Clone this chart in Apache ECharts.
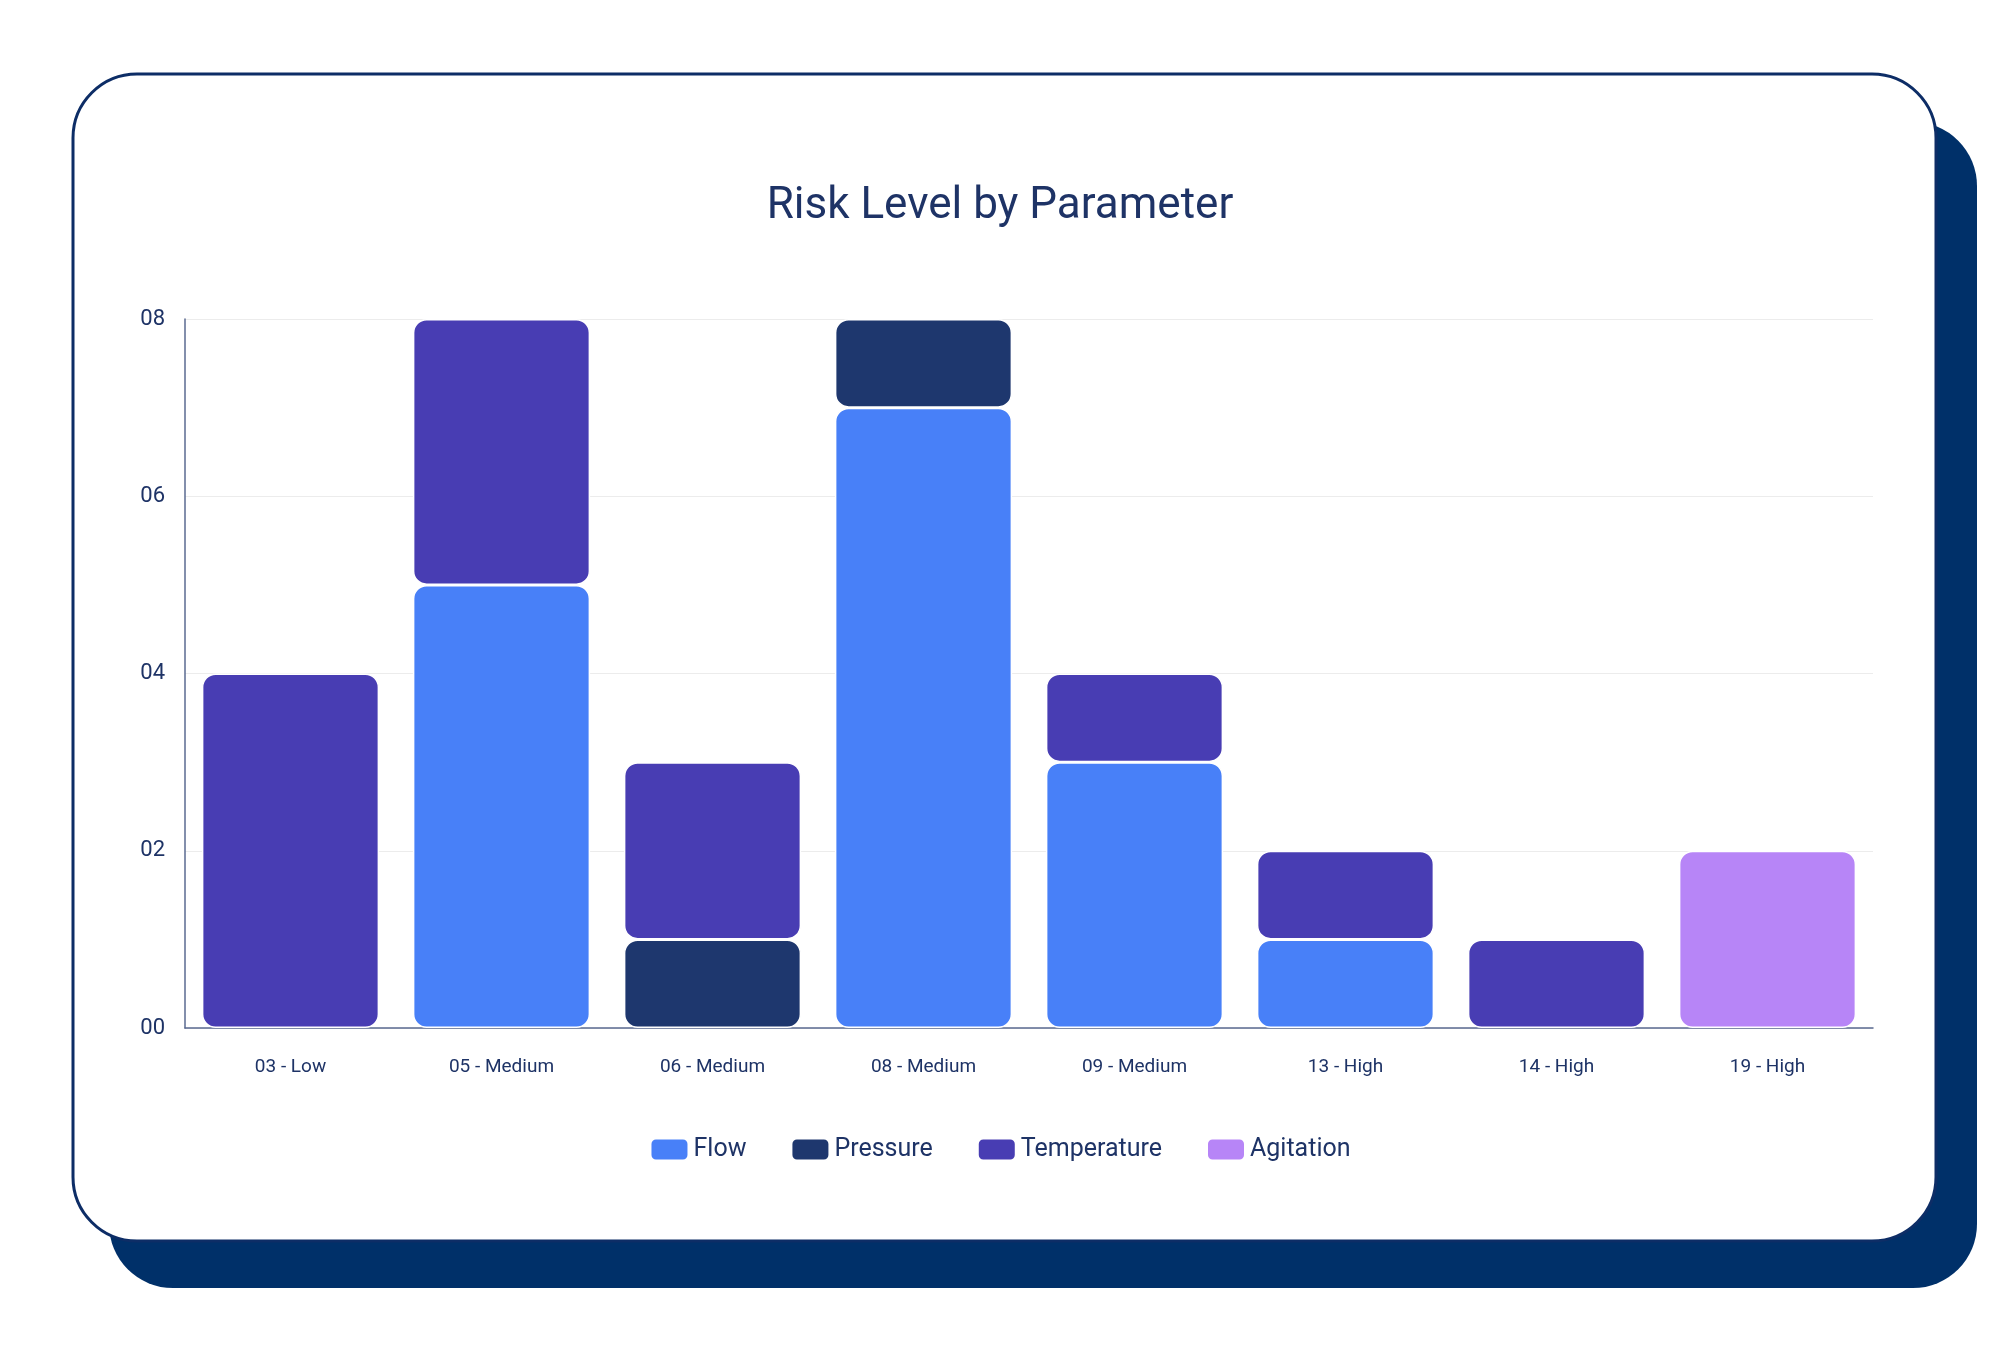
<!DOCTYPE html>
<html><head><meta charset="utf-8">
<script src="https://cdn.jsdelivr.net/npm/echarts@6/dist/echarts.min.js"></script>
<style>html,body{margin:0;padding:0;background:#fff}#c{width:2000px;height:1347px}</style>
</head><body><div id="c"></div>
<script>
const categories = ['03 - Low','05 - Medium','06 - Medium','08 - Medium','09 - Medium','13 - High','14 - High','19 - High'];
const flow = [0,5,0,7,3,1,0,0];
const pressure = [0,0,1,1,0,0,0,0];
const temperature = [4,3,2,0,1,1,1,0];
const agitation = [0,0,0,0,0,0,0,2];
const yTicks = [0,2,4,6,8];
const colors = {Flow:'#4880f8',Pressure:'#1e376e',Temperature:'#483db3',Agitation:'#b785f7'};
const txt = '#1e3366';
const font = 'Roboto';
function s(name,data){
  return {name,type:'bar',stack:'a',data:data.map(v=>v===0?null:v),barCategoryGap:'16%',
    itemStyle:{color:colors[name],borderRadius:13,borderColor:'#fff',borderWidth:1.5}};
}
const chart = echarts.init(document.getElementById('c'));
chart.setOption({
  animation:false,
  textStyle:{fontFamily:font},
  graphic:[
    {type:'rect',z:-10,shape:{x:109,y:122,width:1868,height:1166,r:64},style:{fill:'#003069'}},
    {type:'rect',z:-9,shape:{x:73,y:74,width:1863,height:1167,r:64},style:{fill:'#fff',stroke:'#0d2d66',lineWidth:3}}
  ],
  title:{text:'Risk Level by Parameter',left:'center',top:180,textStyle:{color:txt,fontSize:44,fontWeight:'normal',fontFamily:font}},
  legend:{bottom:180,left:'center',itemWidth:38,itemHeight:22,itemGap:44,icon:'roundRect',
    textStyle:{color:txt,fontSize:25,fontFamily:font},data:['Flow','Pressure','Temperature','Agitation']},
  grid:{left:185,right:127,top:319,bottom:319},
  xAxis:{type:'category',data:categories,axisTick:{show:false},
    axisLine:{lineStyle:{color:'#5a6a90',width:1.5}},
    axisLabel:{color:txt,fontSize:19,margin:30}},
  yAxis:{type:'value',min:0,max:8,interval:2,
    axisLine:{show:true,lineStyle:{color:'#5a6a90',width:1.5}},
    splitLine:{lineStyle:{color:'#ececec'}},
    axisLabel:{color:txt,fontSize:22,margin:20,formatter:v=>yTicks.includes(v)?String(v).padStart(2,'0'):''}},
  series:[s('Flow',flow),s('Pressure',pressure),s('Temperature',temperature),s('Agitation',agitation)]
});
</script></body></html>
